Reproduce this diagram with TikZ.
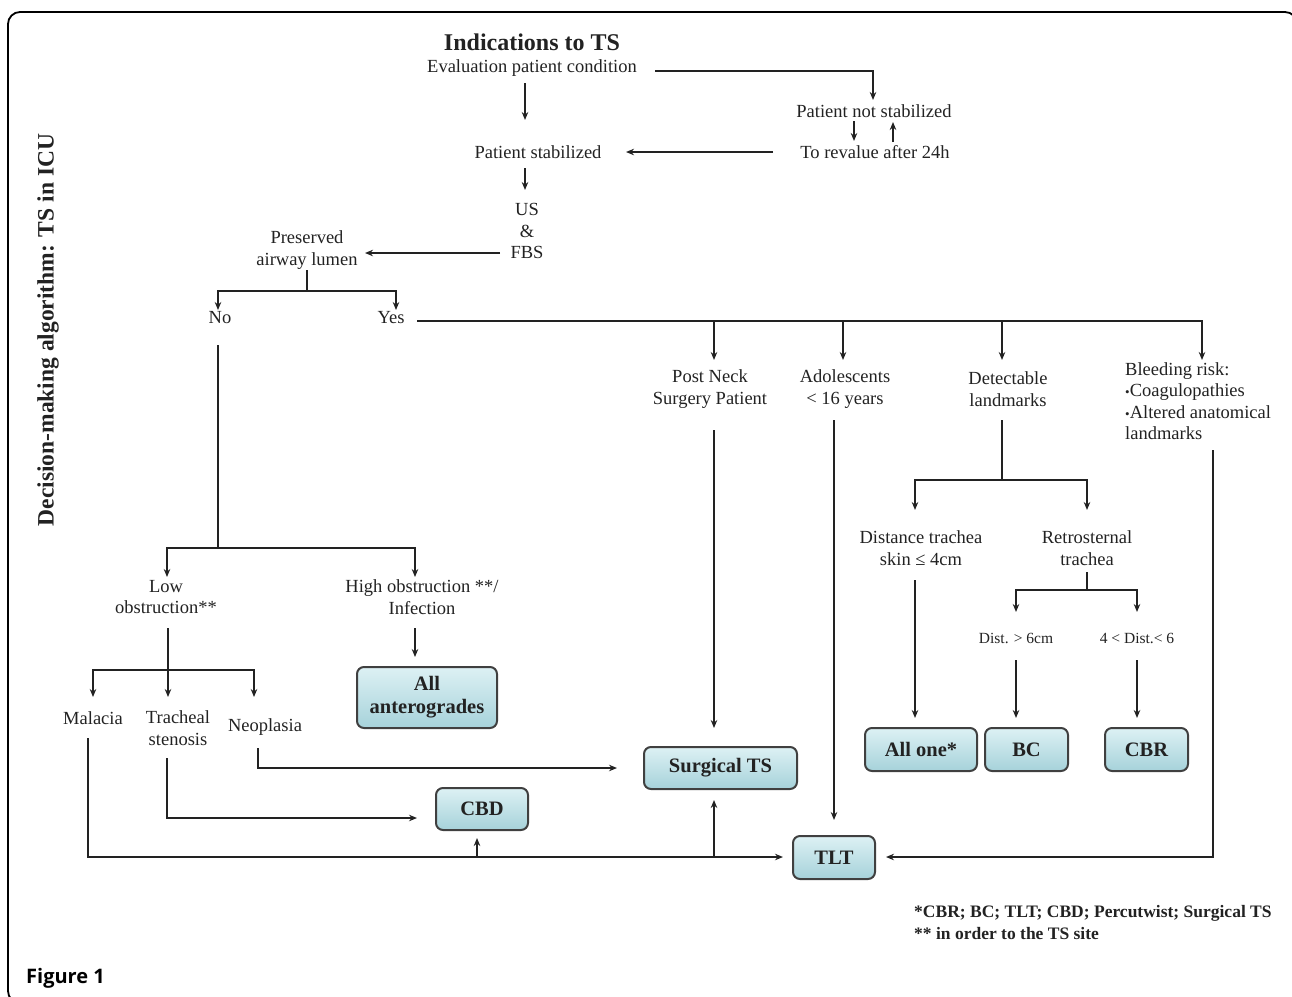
\documentclass[tikz,border=0pt]{standalone}
\usepackage{fontspec}
\setmainfont{Liberation Serif}
\newfontfamily\figfont{Open Sans}
\usetikzlibrary{arrows.meta}
\definecolor{boxtop}{HTML}{DDF1F4}
\definecolor{boxbot}{HTML}{A6D2DA}
\definecolor{ink}{HTML}{222222}
\newcommand{\blt}{{\fontsize{13}{13}\selectfont •}}
\begin{document}
\begin{tikzpicture}[x=1pt,y=-1pt,
  txt/.style={font=\fontsize{18.5}{21.5}\selectfont, text=ink, inner sep=0pt, align=center},
  smalltxt/.style={font=\fontsize{15.5}{18}\selectfont, text=ink, inner sep=0pt},
  arr/.style={-{Stealth[length=8pt,width=6.5pt]}, line width=1.4pt, draw=ink},
  ln/.style={line width=1.4pt, draw=ink},
  tbox/.style={draw=black!75, line width=2pt, rounded corners=7pt, top color=boxtop, bottom color=boxbot, text=ink, font=\fontsize{20.5}{23}\selectfont\bfseries, align=center, inner sep=0pt, minimum height=42pt},
]
\useasboundingbox (0,0) rectangle (1292,996);
\draw[line width=1.8pt, rounded corners=12pt] (8,12) rectangle (1297,1003);

% ---- text nodes
\node[txt, font=\fontsize{24}{26}\selectfont\bfseries] (title) at (532,42) {Indications to TS};
\node[txt] (eval) at (532,68) {Evaluation patient condition};
\node[txt] (notstab) at (874,111) {Patient not stabilized};
\node[txt] (reval) at (875,152) {To revalue after 24h};
\node[txt] (stab) at (538,152) {Patient stabilized};
\node[txt] (us) at (527,231) {US\\\&\\FBS};
\node[txt] (pres) at (307,250) {Preserved\\airway lumen};
\node[txt] (no) at (220,318) {No};
\node[txt] (yes) at (391,318) {Yes};
\node[txt] (post) at (710,389) {Post Neck\\Surgery Patient};
\node[txt] (adol) at (845,389) {Adolescents\\< 16 years};
\node[txt] (detect) at (1008,389) {Detectable\\landmarks};
\node[txt, align=left, anchor=west] (bleed) at (1125,401) {Bleeding risk:\\\blt Coagulopathies\\\blt Altered anatomical\\landmarks};
\node[txt] (low) at (166,597) {Low\\obstruction**};
\node[txt] (high) at (422,597) {High obstruction **/\\Infection};
\node[txt] (mal) at (93,718) {Malacia};
\node[txt] (trach) at (178,728) {Tracheal\\stenosis};
\node[txt] (neo) at (265,727) {Neoplasia};
\node[txt] (dist) at (921,548) {Distance trachea\\skin ≤ 4cm};
\node[txt] (retro) at (1087,548) {Retrosternal\\trachea};
\node[smalltxt] (d6) at (1016,638) {Dist. > 6cm};
\node[smalltxt] (d46) at (1137,638) {4 < Dist.< 6};

\node[txt, font=\fontsize{23.5}{26}\selectfont\bfseries, rotate=90] (vt) at (48,330) {Decision-making algorithm: TS in ICU};
\node[txt, font=\fontsize{17.5}{22}\selectfont\bfseries, align=left, anchor=west] (foot) at (914,922) {*CBR; BC; TLT; CBD; Percutwist; Surgical TS\\** in order to the TS site};
\node[font=\figfont\fontsize{20}{22}\selectfont\bfseries, anchor=west, inner sep=0pt] (fig) at (26,978) {Figure 1};

% ---- result boxes
\node[tbox, minimum width=140pt, minimum height=61pt] (allant) at (427,697.5) {All\\anterogrades};
\node[tbox, minimum width=153pt] (surg) at (720.5,768) {Surgical TS};
\node[tbox, minimum width=92pt] (cbd) at (482,809) {CBD};
\node[tbox, minimum width=82pt, minimum height=43pt] (tlt) at (834,857.5) {TLT};
\node[tbox, minimum width=112pt, minimum height=43pt] (allone) at (921,749.5) {All one*};
\node[tbox, minimum width=83pt, minimum height=43pt] (bc) at (1026.5,749.5) {BC};
\node[tbox, minimum width=83pt, minimum height=43pt] (cbr) at (1146.5,749.5) {CBR};

% ---- connectors
\draw[arr] (525,83) coordinate (p1) -- (525,120) coordinate (p2);
\draw[arr] (655,71) coordinate (q1) -| (873,100) coordinate (q2);
\draw[arr] (854,121) coordinate (r1) -- (854,141) coordinate (r2);
\draw[arr] (893,142) coordinate (r3) -- (893,122) coordinate (r4);
\draw[arr] (773,152) coordinate (s1) -- (626,152) coordinate (s2);
\draw[arr] (525,168) coordinate (t1) -- (525,190) coordinate (t2);
\draw[arr] (500,253) coordinate (u1) -- (365,253) coordinate (u2);

\draw[ln] (307,270) coordinate (v1) -- (307,291) coordinate (v2);
\draw[arr] (v2) -| (218,310) coordinate (vl);
\draw[arr] (v2) -| (396,310) coordinate (vr);

\draw[arr] (417,321) coordinate (y0) -| (1202,360) coordinate (y4);
\draw[arr] (714,321) coordinate (y1) -- (714,360);
\draw[arr] (843,321) coordinate (y2) -- (843,360);
\draw[arr] (1002,321) coordinate (y3) -- (1002,360);

\draw[ln] (218,345) coordinate (n0) -- (218,548) coordinate (n1);
\draw[arr] (n1) -| (167,577) coordinate (nl);
\draw[arr] (n1) -| (415,577) coordinate (nr);

\draw[arr] (168,628) coordinate (l0) -- (168,697) coordinate (l1);
\draw[arr] (168,670) coordinate (lm) -| (93,697) coordinate (ll);
\draw[arr] (lm) -| (254,697) coordinate (lr);

\draw[arr] (415,628) coordinate (h0) -- (415,657) coordinate (h1);

\draw[arr] (258,748) coordinate (ne0) |- (617,768) coordinate (ne1);
\draw[arr] (167,758) coordinate (tr0) |- (417,818) coordinate (tr1);
\draw[arr] (88,738) coordinate (m0) |- (783,857) coordinate (m1);
\draw[arr] (477,857) coordinate (mb1) -- (477,838);
\draw[arr] (714,857) coordinate (mb2) -- (714,800);

\draw[arr] (714,430) coordinate (pn0) -- (714,728) coordinate (pn1);
\draw[arr] (834,420) coordinate (ad0) -- (834,820) coordinate (ad1);

\draw[ln] (1002,420) coordinate (dt0) -- (1002,480) coordinate (dt1);
\draw[arr] (dt1) -| (915,510) coordinate (dtl);
\draw[arr] (dt1) -| (1087,510) coordinate (dtr);

\draw[arr] (915,580) coordinate (ds0) -- (915,718) coordinate (ds1);

\draw[ln] (1087,572) coordinate (rt0) -- (1087,590) coordinate (rt1);
\draw[arr] (rt1) -| (1016,612) coordinate (rtl);
\draw[arr] (rt1) -| (1137,612) coordinate (rtr);

\draw[arr] (1016,660) coordinate (g0) -- (1016,718) coordinate (g1);
\draw[arr] (1137,660) coordinate (k0) -- (1137,718) coordinate (k1);

\draw[arr] (1213,450) coordinate (bl0) |- (886,857) coordinate (bl1);
\end{tikzpicture}
\end{document}
